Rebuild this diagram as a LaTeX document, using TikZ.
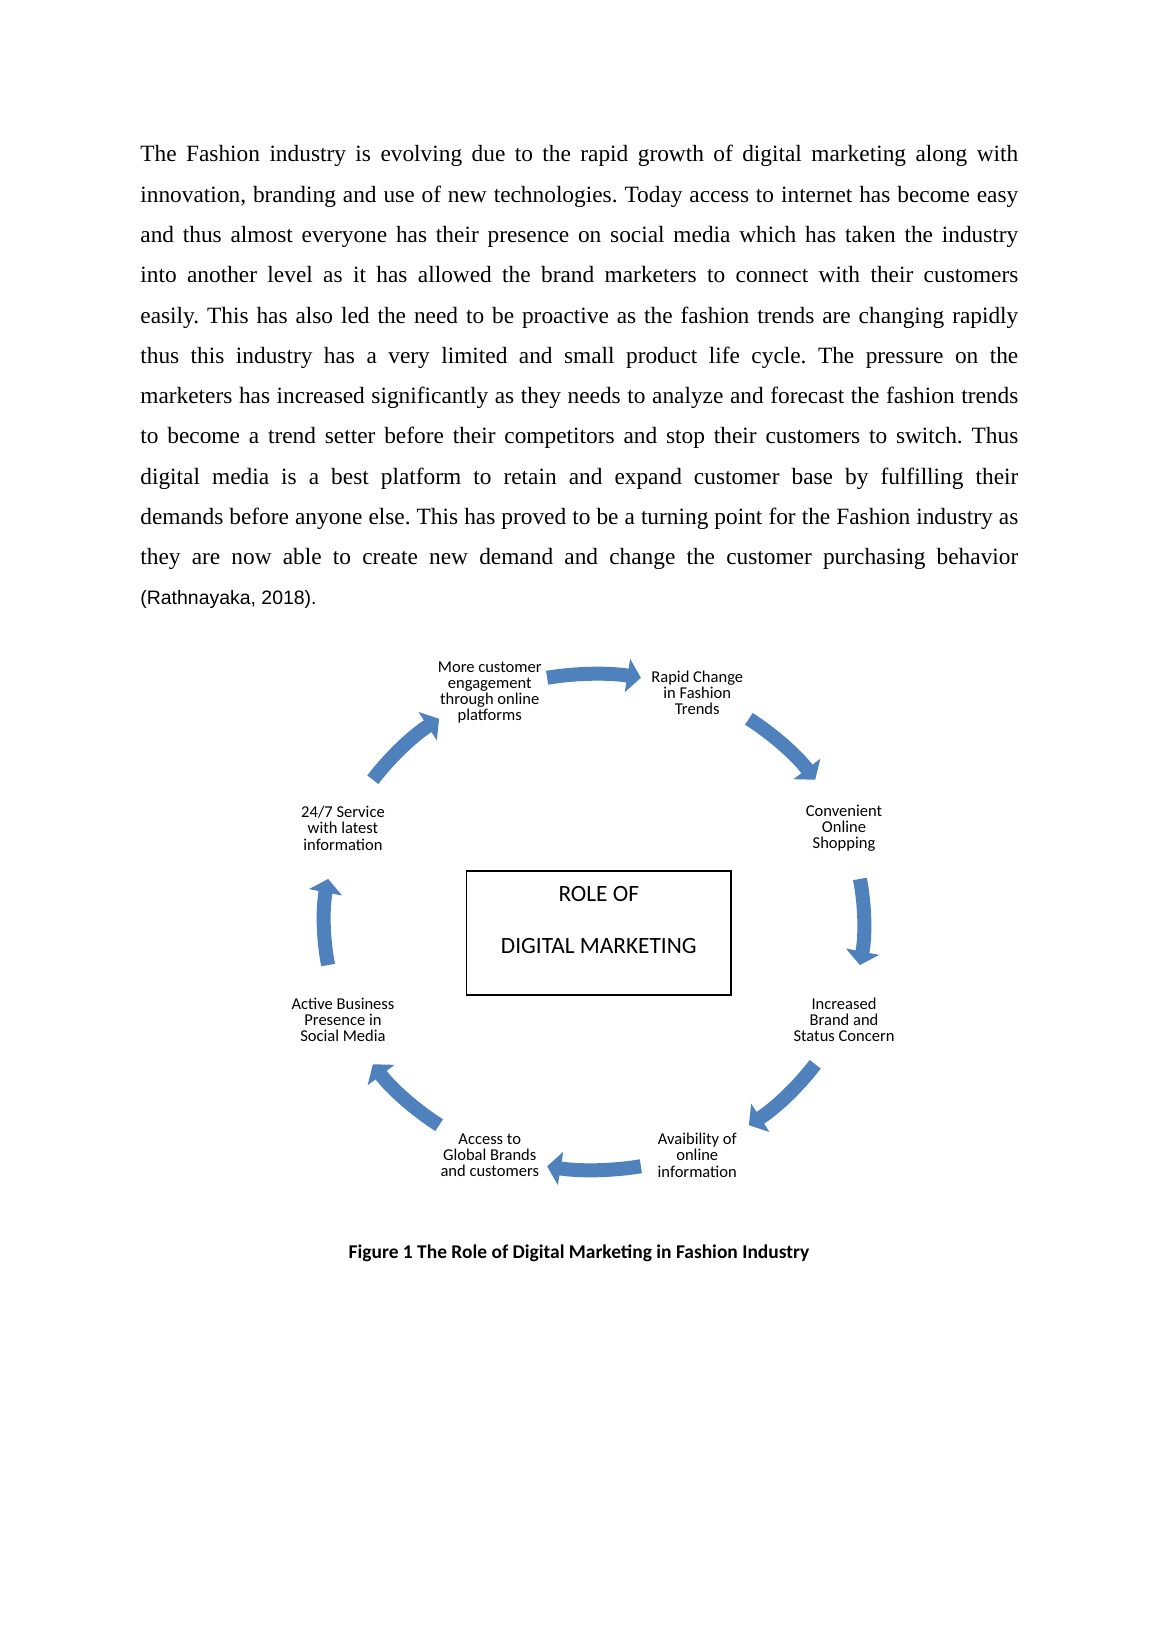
\documentclass[tikz,border=0pt]{standalone}
\usepackage{fontspec}
\setmainfont{Liberation Serif}
\newfontfamily\carlito{Carlito}
\newfontfamily\arialf{Liberation Sans}
\usetikzlibrary{arrows.meta,calc}
\definecolor{accblue}{HTML}{4F81BD}
\frenchspacing
\tikzset{
  bodyline/.style={font=\fontsize{12}{14}\selectfont, inner sep=0pt, anchor=base west},
  lbl/.style={font=\fontsize{8.5}{8.3}\selectfont\carlito, align=center, inner sep=0pt},
  cyc/.style={draw=accblue, line width=7.2pt, -{Triangle[width=17pt,length=7pt]}},
  rolebox/.style={draw=black, line width=0.8pt, minimum width=135.8pt, minimum height=63.9pt, inner sep=0pt},
  roletext/.style={font=\fontsize{12}{14}\selectfont\carlito, inner sep=0pt, anchor=base},
}
\begin{document}
\begin{tikzpicture}[x=0.51406pt, y=0.51406pt]
\useasboundingbox (0,0) rectangle (1158,-1638);
\fill[white] (0,0) rectangle (1158,-1638);
% body text
\def\W{451.28pt}
\node[bodyline] (l1) at (140,-162) {\makebox[\W][s]{The Fashion industry is evolving due to the rapid growth of digital marketing along with}};
\node[bodyline] (l2) at (140,-202.27) {\makebox[\W][s]{innovation, branding and use of new technologies. Today access to internet has become easy}};
\node[bodyline] (l3) at (140,-242.54) {\makebox[\W][s]{and thus almost everyone has their presence on social media which has taken the industry}};
\node[bodyline] (l4) at (140,-282.81) {\makebox[\W][s]{into another level as it has allowed the brand marketers to connect with their customers}};
\node[bodyline] (l5) at (140,-323.08) {\makebox[\W][s]{easily. This has also led the need to be proactive as the fashion trends are changing rapidly}};
\node[bodyline] (l6) at (140,-363.35) {\makebox[\W][s]{thus this industry has a very limited and small product life cycle. The pressure on the}};
\node[bodyline] (l7) at (140,-403.62) {\makebox[\W][s]{marketers has increased significantly as they needs to analyze and forecast the fashion trends}};
\node[bodyline] (l8) at (140,-443.89) {\makebox[\W][s]{to become a trend setter before their competitors and stop their customers to switch. Thus}};
\node[bodyline] (l9) at (140,-484.16) {\makebox[\W][s]{digital media is a best platform to retain and expand customer base by fulfilling their}};
\node[bodyline] (l10) at (140,-524.43) {\makebox[\W][s]{demands before anyone else. This has proved to be a turning point for the Fashion industry as}};
\node[bodyline] (l11) at (140,-564.7) {\makebox[\W][s]{they are now able to create new demand and change the customer purchasing behavior}};
\node[bodyline, font=\fontsize{10}{12}\selectfont\arialf] (l12) at (140,-604.97) {(Rathnayaka, 2018).};
% diagram
\coordinate (c) at (594,-922);
\coordinate (lc) at (593.5,-924);
\foreach \a [evaluate=\a as \s using \a+10, evaluate=\a as \e using \a-10] in {90,45,0,-45,-90,-135,180,135}
  \draw[cyc] ($(c)+(\s:138.8pt and 127.5pt)$) arc[start angle=\s, end angle=\e, x radius=138.8pt, y radius=127.5pt];
\node[lbl] (n1) at ($(lc)+(112.5:139.4pt and 128.7pt)$) {More customer\\engagement\\through online\\platforms};
\node[lbl] (n2) at ($(lc)+(67.5:139.4pt and 128.7pt)$) {Rapid Change\\in Fashion\\Trends};
\node[lbl] (n3) at ($(lc)+(22.5:139.4pt and 128.7pt)$) {Convenient\\Online\\Shopping};
\node[lbl] (n4) at ($(lc)+(-22.5:139.4pt and 128.7pt)$) {Increased\\Brand and\\Status Concern};
\node[lbl] (n5) at ($(lc)+(-67.5:139.4pt and 128.7pt)$) {Avaibility of\\online\\information};
\node[lbl] (n6) at ($(lc)+(-112.5:139.4pt and 128.7pt)$) {Access to\\Global Brands\\and customers};
\node[lbl] (n7) at ($(lc)+(202.5:139.4pt and 128.7pt)$) {Active Business\\Presence in\\Social Media};
\node[lbl] (n8) at ($(lc)+(157.5:139.4pt and 128.7pt)$) {24/7 Service\\with latest\\information};
\node[rolebox] (box) at (598.8,-933) {};
\node[roletext] (t1) at (598.8,-901) {ROLE OF};
\node[roletext] (t2) at (598.8,-953.5) {DIGITAL MARKETING};
\node[font=\fontsize{10}{12}\selectfont\carlito\bfseries, inner sep=0pt, anchor=base] (cap) at (579,-1258) {Figure 1 The Role of Digital Marketing in Fashion Industry};
\end{tikzpicture}
\end{document}
